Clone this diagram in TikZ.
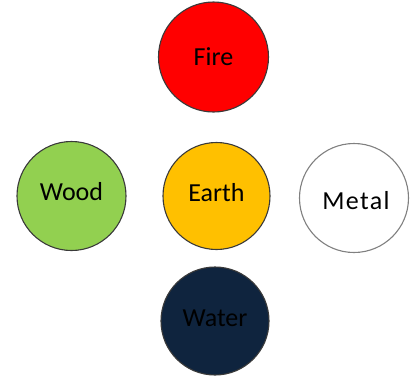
\documentclass[tikz,border=0pt]{standalone}
\usepackage{fontspec}
\setmainfont{Carlito}
\definecolor{firered}{HTML}{FF0000}
\definecolor{woodgreen}{HTML}{92D050}
\definecolor{earthyellow}{HTML}{FFC000}
\definecolor{waternavy}{HTML}{0F243E}
\definecolor{rimgray}{HTML}{3A3A3A}
\begin{document}
\begin{tikzpicture}[x=1bp,y=-1bp,
  element/.style={circle, draw=rimgray, line width=1.1bp, inner sep=0pt, minimum size=#1},
  elabel/.style={font=\fontsize{26bp}{30bp}\selectfont, text=black}]
\useasboundingbox (0,0) rectangle (410,378);
\node[element=110bp, fill=firered] (fire) at (213.5,57) {};
\node[element=109bp, fill=woodgreen] (wood) at (71.5,196) {};
\node[element=107bp, fill=earthyellow] (earth) at (216.5,196) {};
\node[element=109bp, fill=white, draw=gray] (metal) at (354,198) {};
\node[element=108bp, fill=waternavy] (water) at (215,321) {};
\node[elabel] (firet) at ([yshift=0bp]fire.center) {Fire};
\node[elabel] (woodt) at ([yshift=4bp]wood.center) {Wood};
\node[elabel] (eartht) at ([yshift=3bp]earth.center) {Earth};
\node[elabel] (metalt) at ([xshift=2bp,yshift=-3bp]metal.center) {M\kern1.2bp e\kern1.2bp t\kern1.2bp a\kern1.2bp l};
\node[elabel] (watert) at ([yshift=3bp]water.center) {Water};
\end{tikzpicture}
\end{document}
